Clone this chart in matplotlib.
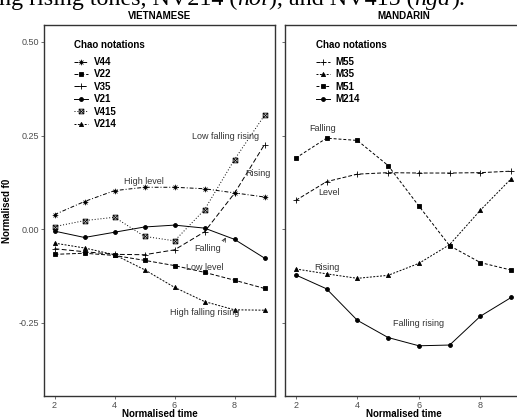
import matplotlib
matplotlib.use("Agg")
import matplotlib.pyplot as plt
from matplotlib.lines import Line2D
from matplotlib.path import Path

plt.rcParams['font.family'] = ['Liberation Sans', 'DejaVu Sans']

# normalised time points
time = [2, 3, 4, 5, 6, 7, 8, 9]

# Vietnamese tones (normalised f0)
v44 = [0.039, 0.074, 0.103, 0.112, 0.112, 0.108, 0.097, 0.086]
v22 = [-0.067, -0.064, -0.070, -0.083, -0.097, -0.115, -0.136, -0.158]
v35 = [-0.052, -0.060, -0.067, -0.068, -0.055, -0.007, 0.096, 0.226]
v21 = [-0.005, -0.022, -0.008, 0.006, 0.011, 0.003, -0.027, -0.077]
v415 = [0.007, 0.023, 0.032, -0.019, -0.031, 0.052, 0.186, 0.304]
v214 = [-0.037, -0.050, -0.068, -0.108, -0.155, -0.193, -0.215, -0.216]

# Mandarin tones (normalised f0)
m55 = [0.077, 0.127, 0.147, 0.151, 0.150, 0.150, 0.151, 0.155]
m35 = [-0.106, -0.119, -0.131, -0.123, -0.091, -0.041, 0.051, 0.135]
m51 = [0.190, 0.243, 0.237, 0.170, 0.062, -0.044, -0.089, -0.109]
m214 = [-0.122, -0.159, -0.243, -0.289, -0.311, -0.309, -0.232, -0.182]

viet_names = ['V44', 'V22', 'V35', 'V21', 'V415', 'V214']
mand_names = ['M55', 'M35', 'M51', 'M214']

# caption line of the page (cropped at the top), (text, italic?)
caption = [("ng rising tones, NV214 (", False), ("hỏi", True), ("), and NV415 (", False),
           ("ngã", True), (").", False)]

# ggplot-like marker shapes built from line segments
M, L = Path.MOVETO, Path.LINETO
asterisk = Path([(-1, 0), (1, 0), (0, -1), (0, 1), (-0.7, -0.7), (0.7, 0.7),
                 (-0.7, 0.7), (0.7, -0.7)], [M, L, M, L, M, L, M, L])
boxcross = Path([(-1, -1), (1, -1), (1, 1), (-1, 1), (-1, -1), (1, 1), (-1, 1), (1, -1)],
                [M, L, L, L, L, L, M, L])

# style of each tone: marker, linestyle, markersize, filled
styles = {
    'V44': (asterisk, (0, (4, 2, 1, 2)), 4.0, False),
    'V22': ('s', (0, (4, 2)), 2.6, True),
    'V35': ('+', (0, (5, 2.5)), 5.0, False),
    'V21': ('o', '-', 2.8, True),
    'V415': (boxcross, (0, (1, 2)), 3.4, False),
    'V214': ('^', (0, (2, 1.5)), 3.0, True),
    'M55': ('+', (0, (4, 2)), 5.0, False),
    'M35': ('^', (0, (2, 1.5)), 3.0, True),
    'M51': ('s', (0, (3, 2)), 2.6, True),
    'M214': ('o', '-', 2.8, True),
}

fig = plt.figure(figsize=(5.17, 4.18), dpi=100)

# draw caption pieces one after the other
renderer = fig.canvas.get_renderer()
xpos = -1.0
for txt, ital in caption:
    t = fig.text(xpos / 517, 1 - 5 / 418, txt, family='Liberation Serif',
                 fontsize=17.3, va='baseline', ha='left',
                 style='italic' if ital else 'normal')
    xpos = t.get_window_extent(renderer).x1 + (1 if ital else 0)

ax1 = fig.add_axes([44 / 517, 22 / 418, 231 / 517, 371 / 418])
ax2 = fig.add_axes([285 / 517, 22 / 418, 237 / 517, 371 / 418])


def style_axes(ax, title, show_ylabels):
    ax.set_xlim(1.65, 9.35)
    ax.set_ylim(-0.445, 0.545)
    ax.set_xticks([2, 4, 6, 8])
    ax.set_yticks([-0.25, 0.0, 0.25, 0.5])
    if show_ylabels:
        ax.set_yticklabels(['-0.25', '0.00', '0.25', '0.50'])
    else:
        ax.set_yticklabels([])
    for s in ax.spines.values():
        s.set_color('#333333')
        s.set_linewidth(1.0)
    ax.tick_params(length=2.5, width=0.6, color='#555555', labelsize=6.5,
                   labelcolor='#4d4d4d', pad=1)
    ax.set_title(title, fontsize=7, fontweight='bold', pad=4)
    ax.set_xlabel('Normalised time', fontsize=7, fontweight='bold', labelpad=-0.5)


style_axes(ax1, 'VIETNAMESE', True)
style_axes(ax2, 'MANDARIN', False)
ax1.set_ylabel('Normalised f0', fontsize=7, fontweight='bold', labelpad=5)

viet_data = [v44, v22, v35, v21, v415, v214]
mand_data = [m55, m35, m51, m214]


def draw(ax, names, data):
    handles = []
    for name, vals in zip(names, data):
        mk, ls, ms, filled = styles[name]
        kw = dict(color='black', linewidth=0.7, linestyle=ls, marker=mk,
                  markersize=ms, markeredgewidth=0.6)
        if not filled:
            kw['markerfacecolor'] = 'none'
        ax.plot(time, vals, **kw)
        handles.append(Line2D([], [], **kw))
    leg = ax.legend(handles, names, loc='upper left', bbox_to_anchor=(0.115, 0.97),
                    frameon=False, title='Chao notations', alignment='left',
                    prop={'size': 7, 'weight': 'bold'}, handlelength=1.4,
                    handletextpad=0.6, labelspacing=0.25, borderaxespad=0)
    leg.get_title().set_fontsize(7)
    leg.get_title().set_fontweight('bold')
    leg._legend_box.sep = 5


draw(ax1, viet_names, viet_data)
draw(ax2, mand_names, mand_data)

lab = dict(fontsize=6.5, color='#333333', ha='center', va='center')
ax1.text(4.99, 0.128, 'High level', **lab)
ax1.text(7.70, 0.248, 'Low falling rising', **lab)
ax1.text(8.78, 0.148, 'Rising', **lab)
ax1.text(7.02, -0.102, 'Low level', **lab)
ax1.text(7.02, -0.222, 'High falling rising', **lab)
ax1.annotate('Falling', xy=(7.71, -0.022), xytext=(7.10, -0.052),
             arrowprops=dict(arrowstyle='->', color='#333333', lw=0.6,
                             connectionstyle='arc3,rad=0.3',
                             shrinkA=8, shrinkB=0), **lab)

ax2.text(2.87, 0.269, 'Falling', **lab)
ax2.text(3.08, 0.098, 'Level', **lab)
ax2.text(3.00, -0.102, 'Rising', **lab)
ax2.text(5.99, -0.252, 'Falling rising', **lab)

fig.savefig('out.png', dpi=100)
